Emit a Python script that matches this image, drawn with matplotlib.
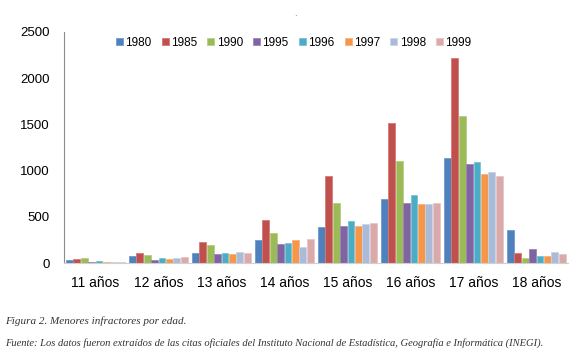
import matplotlib
matplotlib.use("Agg")
import matplotlib.pyplot as plt
import numpy as np

categories = ["11 años", "12 años", "13 años", "14 años", "15 años", "16 años", "17 años", "18 años"]
years = ["1980", "1985", "1990", "1995", "1996", "1997", "1998", "1999"]

v1980 = [29, 72, 112, 252, 395, 696, 1140, 357]
v1985 = [43, 112, 231, 462, 945, 1515, 2215, 112]
v1990 = [50, 90, 198, 328, 649, 1107, 1594, 58]
v1995 = [7, 36, 94, 209, 400, 653, 1075, 151]
v1996 = [22, 54, 112, 216, 454, 734, 1093, 79]
v1997 = [14, 43, 94, 245, 400, 636, 963, 79]
v1998 = [14, 50, 123, 178, 422, 636, 981, 115]
v1999 = [14, 65, 112, 265, 438, 653, 938, 97]
series = [v1980, v1985, v1990, v1995, v1996, v1997, v1998, v1999]

colors = ["#4F81BD", "#C0504D", "#9BBB59", "#8064A2", "#4BACC6", "#F79646", "#AABAD7", "#D9AAA9"]
edges = ["#6f9bd0", "#d57a77", "#b5d07d", "#9c85bb", "#78c4d8", "#f9b27a", "#c8d4ea", "#e8c6c5"]

fig = plt.figure(figsize=(5.8, 3.55), dpi=100)
ax = fig.add_axes([0.110, 0.259, 0.869, 0.651])

x = np.arange(len(categories))
slot = 1.0 / 8.5
bw = slot * 0.92
for i, (vals, c, e) in enumerate(zip(series, colors, edges)):
    ax.bar(x + (i - 3.5) * slot, vals, width=bw, color=c, edgecolor=e, linewidth=0.6, label=years[i])

ax.set_xlim(-0.5, 7.5)
ax.set_ylim(0, 2500)
ax.set_yticks([0, 500, 1000, 1500, 2000, 2500])
ax.set_xticks(x)
ax.set_xticklabels(categories, fontsize=10, family="Liberation Sans")
for lab in ax.get_yticklabels():
    lab.set_fontsize(9.5)
    lab.set_family("Liberation Sans")
ax.tick_params(axis="y", length=0, pad=10)
ax.tick_params(axis="x", length=0, pad=9)
for s in ["top", "right"]:
    ax.spines[s].set_visible(False)
ax.spines["left"].set_color("#8c8c8c")
ax.spines["bottom"].set_color("#d0d0d0")

leg = ax.legend(loc="upper center", bbox_to_anchor=(0.456, 1.01), ncol=8, frameon=False,
                prop={"family": "Liberation Sans", "size": 8.5},
                handlelength=0.6, handleheight=0.6, handletextpad=0.2, columnspacing=0.85,
                borderaxespad=0.2)

fig.text(0.509, 0.955, ".", fontsize=6, color="#555555", ha="center")
fig.text(0.009, 0.086, "Figura 2. Menores infractores por edad.", fontsize=8,
         family="Liberation Serif", style="italic", color="#333333")
fig.text(0.009, 0.025, "Fuente: Los datos fueron extraídos de las citas oficiales del Instituto Nacional de Estadística, Geografía e Informática (INEGI).",
         fontsize=7.6, family="Liberation Serif", style="italic", color="#333333")

fig.savefig("out.png", dpi=100)
